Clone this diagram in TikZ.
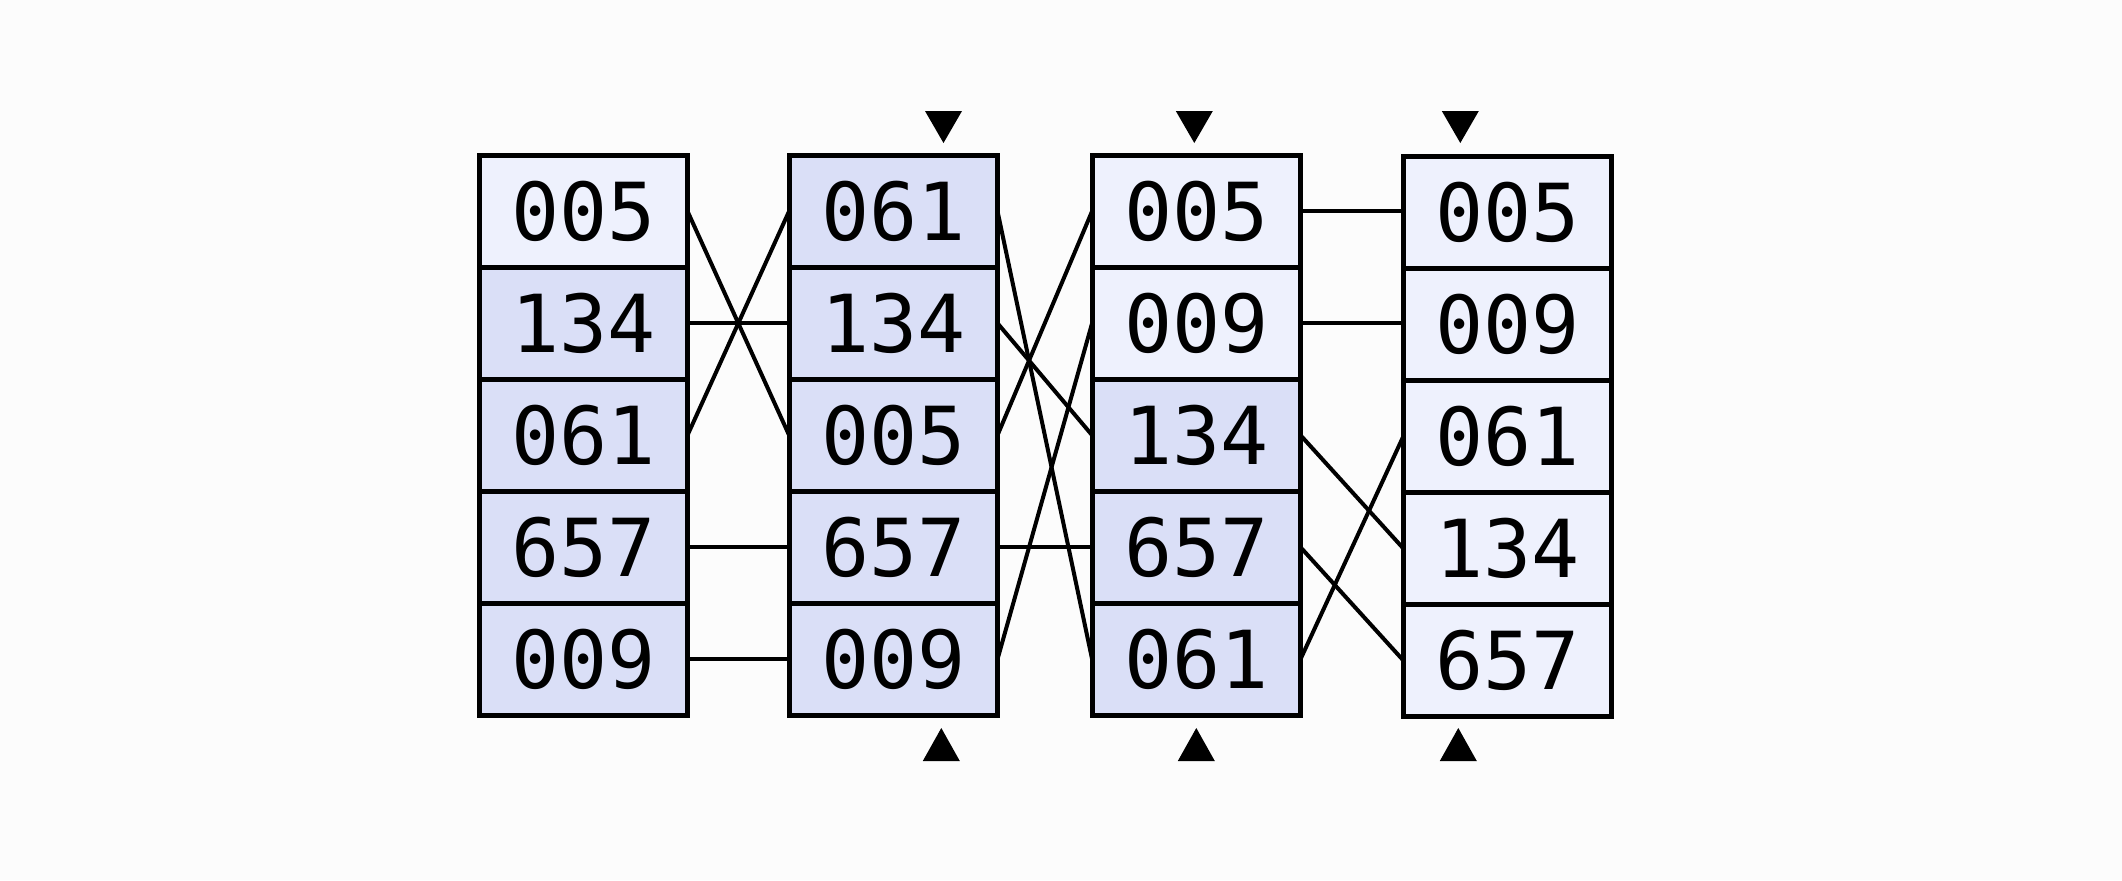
\documentclass[tikz,border=0pt]{standalone}
\usepackage{fontspec}
\newfontfamily\digitfont{DejaVu Sans Mono}
\definecolor{pagebg}{RGB}{252,252,252}
\definecolor{cellhi}{RGB}{218,223,247}
\definecolor{celllo}{RGB}{238,241,253}
\tikzset{
  cell/.style={draw=black, line width=2.5pt, minimum width=104.2pt, minimum height=56pt,
    inner sep=0pt, outer sep=0pt, font=\digitfont\fontsize{40}{48}\selectfont},
  hi/.style={cell, fill=cellhi},
  lo/.style={cell, fill=celllo},
  link/.style={line width=2pt, black},
  marker/.style={fill=black}
}
\begin{document}
\begin{tikzpicture}[x=0.5pt, y=-0.5pt]
  \fill[pagebg] (0,0) rectangle (2122,880);
  \useasboundingbox (0,0) rectangle (2122,880);

  % column 1
  \node[lo] (c1r1) at (583.3,211.2) {005};
  \node[hi] (c1r2) at (583.3,323.2) {134};
  \node[hi] (c1r3) at (583.3,435.2) {061};
  \node[hi] (c1r4) at (583.3,547.2) {657};
  \node[hi] (c1r5) at (583.3,659.2) {009};
  % column 2
  \node[hi] (c2r1) at (893.3,211.2) {061};
  \node[hi] (c2r2) at (893.3,323.2) {134};
  \node[hi] (c2r3) at (893.3,435.2) {005};
  \node[hi] (c2r4) at (893.3,547.2) {657};
  \node[hi] (c2r5) at (893.3,659.2) {009};
  % column 3
  \node[lo] (c3r1) at (1196.3,211.2) {005};
  \node[lo] (c3r2) at (1196.3,323.2) {009};
  \node[hi] (c3r3) at (1196.3,435.2) {134};
  \node[hi] (c3r4) at (1196.3,547.2) {657};
  \node[hi] (c3r5) at (1196.3,659.2) {061};
  % column 4
  \node[lo] (c4r1) at (1507.5,212.4) {005};
  \node[lo] (c4r2) at (1507.5,324.4) {009};
  \node[lo] (c4r3) at (1507.5,436.4) {061};
  \node[lo] (c4r4) at (1507.5,548.4) {134};
  \node[lo] (c4r5) at (1507.5,660.4) {657};

  % links between equal keys
  \draw[link] (c1r1.east) -- (c2r3.west);
  \draw[link] (c1r2.east) -- (c2r2.west);
  \draw[link] (c1r3.east) -- (c2r1.west);
  \draw[link] (c1r4.east) -- (c2r4.west);
  \draw[link] (c1r5.east) -- (c2r5.west);

  \draw[link] (c2r1.east) -- (c3r5.west);
  \draw[link] (c2r2.east) -- (c3r3.west);
  \draw[link] (c2r3.east) -- (c3r1.west);
  \draw[link] (c2r4.east) -- (c3r4.west);
  \draw[link] (c2r5.east) -- (c3r2.west);

  \draw[link] (c3r1.east) -- (c3r1.east -| c4r1.west);
  \draw[link] (c3r2.east) -- (c3r2.east -| c4r2.west);
  \draw[link] (c3r3.east) -- (c4r4.west);
  \draw[link] (c3r4.east) -- (c4r5.west);
  \draw[link] (c3r5.east) -- (c4r3.west);

  % pass markers above and below
  \foreach \tx/\bx in {943.5/941.3, 1194.3/1196.3, 1460.3/1458.3} {
    \fill[marker] (\tx-18.5,111) -- (\tx+18.5,111) -- (\tx,143) -- cycle;
    \fill[marker] (\bx-18.5,761) -- (\bx+18.5,761) -- (\bx,728) -- cycle;
  }
\end{tikzpicture}
\end{document}
